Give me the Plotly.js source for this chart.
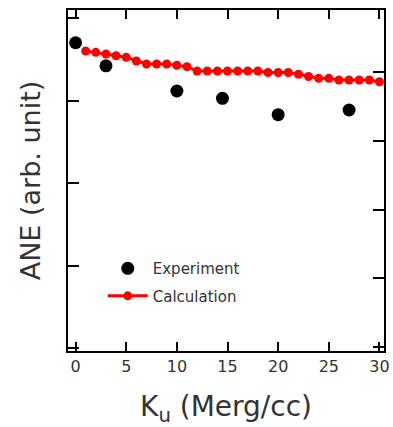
<!DOCTYPE html>
<html>
<head>
<meta charset="utf-8">
<script src="https://cdn.plot.ly/plotly-3.0.1.min.js"></script>
<style>html,body{margin:0;padding:0;background:#fff;}#chart{width:393px;height:427px;}</style>
</head>
<body>
<div id="chart"></div>
<script>
// Experiment data
const expKu = [0, 3, 10, 14.5, 20, 27];
const expANE = [3.70, 3.42, 3.115, 3.027, 2.828, 2.885];
// Calculation data
const calcKu = [1,2,3,4,5,6,7,8,9,10,11,12,13,14,15,16,17,18,19,20,21,22,23,24,25,26,27,28,29,30];
const calcANE = [3.600,3.584,3.564,3.543,3.524,3.479,3.442,3.442,3.442,3.427,3.410,
                 3.358,3.358,3.358,3.358,3.358,3.358,3.358,3.339,3.339,3.339,3.318,3.291,
                 3.269,3.269,3.248,3.248,3.248,3.248,3.228];
const xTicks = [0,5,10,15,20,25,30];

const font = "'DejaVu Sans', 'Noto Sans', sans-serif";

const traces = [
  {x: expKu, y: expANE, mode: 'markers', name: 'Experiment', legendgroup: 'a',
   marker: {color: '#000', size: 13}},
  {x: calcKu, y: calcANE, mode: 'lines+markers', name: 'Calculation', legendgroup: 'b',
   line: {color: '#ff0000', width: 3}, marker: {color: '#ff0000', size: 9}},
  {x: [], y: [], yaxis: 'y2', showlegend: false, hoverinfo: 'skip'}
];

const layout = {
  width: 393, height: 427,
  margin: {l: 68, r: 9, t: 10, b: 76},
  paper_bgcolor: '#fff', plot_bgcolor: '#fff',
  font: {family: font, color: '#333'},
  showlegend: true,
  legend: {x: 0.11, y: 0.29, xanchor: 'left', yanchor: 'top',
           font: {family: font, size: 15, color: '#333'},
           bgcolor: 'rgba(0,0,0,0)', tracegroupgap: 5, itemwidth: 40},
  xaxis: {
    range: [-0.75, 30.45], tickvals: xTicks, ticktext: xTicks.map(String),
    ticks: 'inside', ticklen: 9, tickwidth: 2, tickcolor: '#000',
    showline: true, linecolor: '#000', linewidth: 2, mirror: 'ticks',
    showgrid: false, zeroline: false,
    tickfont: {family: font, size: 16, color: '#333'},
    title: {text: 'K<sub>u</sub> (Merg/cc)', font: {family: font, size: 28, color: '#333'}, standoff: 24}
  },
  yaxis: {
    range: [-0.036, 4.097], tickvals: [0,1,2,3,4], showticklabels: false,
    ticks: 'inside', ticklen: 11, tickwidth: 2, tickcolor: '#000',
    showline: true, linecolor: '#000', linewidth: 2, mirror: false,
    showgrid: false, zeroline: false,
    title: {text: 'ANE (arb. unit)', font: {family: font, size: 27, color: '#333'}, standoff: 18}
  },
  yaxis2: {
    overlaying: 'y', side: 'right',
    range: [-0.058, 4.902], tickvals: [0,1,2,3,4], showticklabels: false,
    ticks: 'inside', ticklen: 11, tickwidth: 2, tickcolor: '#000',
    showline: true, linecolor: '#000', linewidth: 2,
    showgrid: false, zeroline: false
  }
};

Plotly.newPlot('chart', traces, layout, {staticPlot: true, displayModeBar: false});
</script>
</body>
</html>
